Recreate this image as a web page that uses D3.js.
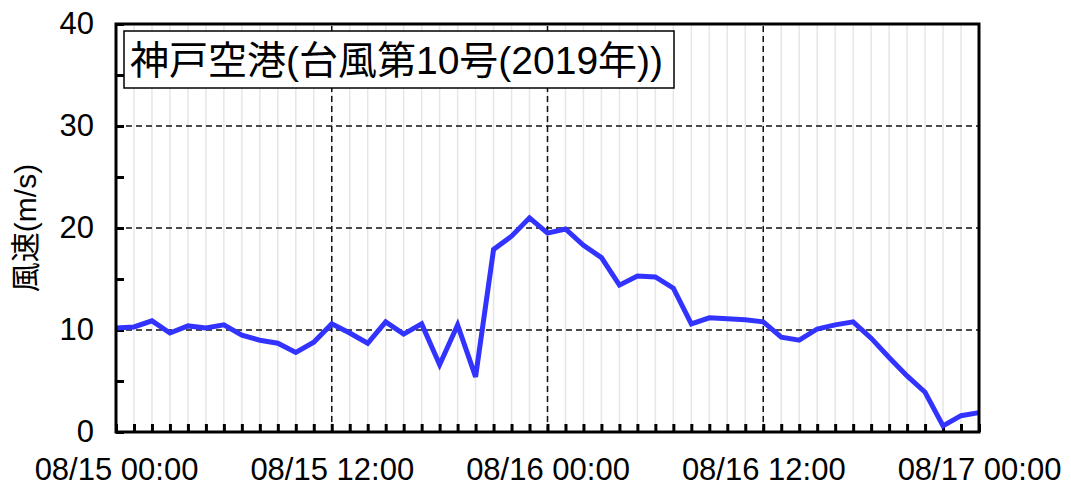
<!DOCTYPE html>
<html>
<head>
<meta charset="utf-8">
<script src="https://cdn.jsdelivr.net/npm/d3@7"></script>
<style>
  body { margin: 0; background: #fff; }
  text { font-family: "Liberation Sans", Arial, "Noto Sans CJK JP", sans-serif; fill: #000; }
</style>
</head>
<body>
<div id="chart"></div>
<script>
// datos: velocidad del viento horaria, 08/15 00:00 - 08/17 00:00
var titulo = "神戸空港(台風第10号(2019年))";
var etiquetaY = "風速(m/s)";
var inicio = "2019-08-15T00:00";
var fin = "2019-08-17T00:00";
var velocidad = [
  10.2, 10.3, 10.9, 9.7, 10.4, 10.2, 10.5, 9.5, 9.0, 8.7,
  7.8, 8.8, 10.6, 9.7, 8.7, 10.8, 9.6, 10.6, 6.6, 10.5,
  5.4, 17.9, 19.2, 21.0, 19.5, 19.9, 18.3, 17.1, 14.4, 15.3,
  15.2, 14.1, 10.6, 11.2, 11.1, 11.0, 10.8, 9.3, 9.0, 10.1,
  10.5, 10.8, 9.2, 7.3, 5.5, 3.9, 0.6, 1.6, 1.9
];
var ticksY = [0, 10, 20, 30, 40];
var ticksYMenores = [5, 15, 25, 35];

var width = 1071;
var height = 488;
var margin = { top: 24, right: 92, bottom: 56, left: 116 };

var parseHora = d3.utcParse("%Y-%m-%dT%H:%M");
var t0 = parseHora(inicio);
var t1 = parseHora(fin);
var horas = d3.utcHour.range(t0, d3.utcHour.offset(t1, 1));
var datos = velocidad.map((v, i) => ({ fecha: horas[i], valor: v }));
var ticksX = d3.utcHour.every(12).range(t0, d3.utcHour.offset(t1, 1));

var svg = d3.select("#chart").append("svg")
  .attr("width", width)
  .attr("height", height);

var x = d3.scaleUtc()
  .domain([t0, t1])
  .range([margin.left, width - margin.right]);

var y = d3.scaleLinear()
  .domain([0, 40])
  .range([height - margin.bottom, margin.top]);

var dash = "6,4";

/* rejilla vertical por hora (gris claro) */
svg.append("g")
  .selectAll("line")
  .data(horas.slice(1, -1)).enter()
  .append("line")
  .attr("x1", d => x(d)).attr("x2", d => x(d))
  .attr("y1", y(0)).attr("y2", y(40))
  .attr("stroke", "#e6e6e6")
  .attr("stroke-width", 1.5);

/* rejilla punteada */
svg.append("g")
  .selectAll("line")
  .data([10, 20, 30]).enter()
  .append("line")
  .attr("x1", x(t0)).attr("x2", x(t1))
  .attr("y1", d => y(d)).attr("y2", d => y(d))
  .attr("stroke", "#111")
  .attr("stroke-width", 1.5)
  .attr("stroke-dasharray", dash);

svg.append("g")
  .selectAll("line")
  .data(ticksX.slice(1, -1)).enter()
  .append("line")
  .attr("x1", d => x(d)).attr("x2", d => x(d))
  .attr("y1", y(0)).attr("y2", y(40))
  .attr("stroke", "#111")
  .attr("stroke-width", 1.5)
  .attr("stroke-dasharray", dash);

/* marcas de los ejes */
svg.append("g")
  .attr("transform", `translate(0, ${y(0)})`)
  .call(d3.axisBottom(x).tickValues(horas).tickSize(-8).tickFormat(""))
  .call(g => g.select(".domain").remove())
  .selectAll("line").attr("stroke", "#000").attr("stroke-width", 3);

svg.append("g")
  .attr("transform", `translate(${x(t0)}, 0)`)
  .call(d3.axisLeft(y).tickValues(ticksYMenores.concat(ticksY)).tickSize(-8).tickFormat(""))
  .call(g => g.select(".domain").remove())
  .selectAll("line").attr("stroke", "#000").attr("stroke-width", 3);

/* etiquetas */
svg.append("g")
  .attr("transform", `translate(0, ${y(0)})`)
  .call(d3.axisBottom(x).tickValues(ticksX).tickSize(0).tickPadding(26)
    .tickFormat(d3.utcFormat("%m/%d %H:%M")))
  .call(g => g.select(".domain").remove())
  .selectAll("text")
  .attr("font-size", "31px")
  .attr("font-family", "'Liberation Sans', Arial, sans-serif")
  .attr("fill", "#000")
  .attr("dy", "0.7em");

svg.append("g")
  .attr("transform", `translate(${x(t0)}, 0)`)
  .call(d3.axisLeft(y).tickValues(ticksY).tickSize(0).tickPadding(22))
  .call(g => g.select(".domain").remove())
  .selectAll("text")
  .attr("font-size", "31px")
  .attr("font-family", "'Liberation Sans', Arial, sans-serif")
  .attr("fill", "#000");

svg.append("text")
  .attr("transform", `translate(36, ${(y(0) + y(40)) / 2}) rotate(-90)`)
  .attr("text-anchor", "middle")
  .attr("font-size", "30px")
  .text(etiquetaY);

/* linea de datos */
var linea = d3.line()
  .x(d => x(d.fecha))
  .y(d => y(d.valor));

svg.append("path")
  .datum(datos)
  .attr("d", linea)
  .attr("fill", "none")
  .attr("stroke", "#3333ff")
  .attr("stroke-width", 5)
  .attr("stroke-linejoin", "miter");

/* marco */
svg.append("rect")
  .attr("x", x(t0)).attr("y", y(40))
  .attr("width", x(t1) - x(t0))
  .attr("height", y(0) - y(40))
  .attr("fill", "none")
  .attr("stroke", "#000")
  .attr("stroke-width", 3);

/* titulo en caja */
var caja = svg.append("g");
caja.append("rect")
  .attr("x", 124).attr("y", 31)
  .attr("width", 550).attr("height", 57)
  .attr("fill", "#fff")
  .attr("stroke", "#000")
  .attr("stroke-width", 1.5);
caja.append("text")
  .attr("x", 130).attr("y", 74)
  .attr("font-size", "39px")
  .text(titulo);
</script>
</body>
</html>
